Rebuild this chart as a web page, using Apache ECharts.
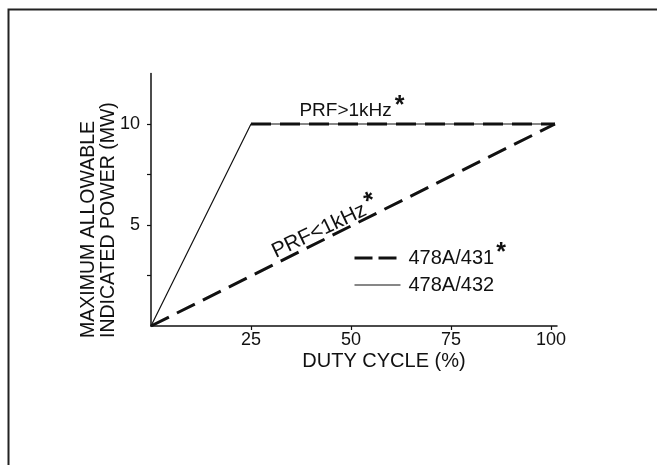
<!DOCTYPE html>
<html>
<head>
<meta charset="utf-8">
<script src="https://cdn.jsdelivr.net/npm/echarts@6/dist/echarts.min.js"></script>
<style>
html,body{margin:0;padding:0;background:#fff;}
#chart{width:657px;height:465px;}
</style>
</head>
<body>
<div id="chart"></div>
<script>
// ---- data ----
var xTicks = [25, 50, 75, 100];
var yTicks = [2.5, 5, 7.5, 10];
var yLabels = [5, 10];
// 478A/432 (thin solid)
var solid432 = [[0, 0], [25, 10], [101, 10]];
// 478A/431, PRF < 1 kHz (thick dashed)
var dashedLow = [[0, 0], [101, 10]];
// 478A/431, PRF > 1 kHz (thick dashed)
var dashedHigh = [[25, 10], [101, 10]];

var FONT = 'Liberation Sans';
var INK = '#111';

var chart = echarts.init(document.getElementById('chart'));
var dash = { color: INK, width: 3, type: [20, 9] };
var star = { fontFamily: FONT, fontSize: 25, fontWeight: 'bold', color: INK, padding: [0, 0, 9, 3] };

chart.setOption({
  animation: false,
  backgroundColor: '#fff',
  textStyle: { fontFamily: FONT, color: INK },
  grid: { left: 151, top: 73.5, width: 406, height: 252.5 },
  xAxis: {
    type: 'value', min: 0, max: 101.5,
    splitLine: { show: false },
    axisLine: { lineStyle: { color: INK, width: 1.5 } },
    axisTick: { show: true, length: 4, customValues: xTicks, lineStyle: { color: INK, width: 1.2 } },
    axisLabel: { customValues: xTicks, margin: 5, fontSize: 18, color: INK, fontFamily: FONT }
  },
  yAxis: {
    type: 'value', min: 0, max: 12.5,
    splitLine: { show: false },
    axisLine: { show: true, lineStyle: { color: INK, width: 1.5 } },
    axisTick: { show: true, length: 4, customValues: yTicks, lineStyle: { color: INK, width: 1.2 } },
    axisLabel: { customValues: yLabels, margin: 11, fontSize: 18, color: INK, fontFamily: FONT }
  },
  legend: {
    orient: 'vertical', left: 348, top: 236, itemWidth: 46, itemHeight: 12, itemGap: 7,
    itemStyle: { opacity: 0 },
    data: [
      { name: '478A/431', itemStyle: { opacity: 0 }, lineStyle: { color: INK, width: 3, type: [18, 6] } },
      { name: '478A/432', itemStyle: { opacity: 0 }, lineStyle: { color: INK, width: 1.2, type: 'solid' } }
    ],
    formatter: function (n) { return n === '478A/431' ? '{t|' + n + '}{s|*}' : '{t|' + n + '}'; },
    textStyle: {
      padding: [0, 0, 0, 3],
      rich: {
        t: { fontFamily: FONT, fontSize: 20, color: INK },
        s: { fontFamily: FONT, fontSize: 25, fontWeight: 'bold', color: INK, verticalAlign: 'top', padding: [0, 0, 9, 2] }
      }
    }
  },
  series: [
    { name: '478A/432', type: 'line', data: solid432, symbol: 'none', lineStyle: { color: INK, width: 1.2 }, itemStyle: { color: INK }, z: 2 },
    { name: '478A/431', type: 'line', data: dashedLow, symbol: 'none', lineStyle: dash, itemStyle: { color: INK }, z: 3 },
    { name: '478A/431', type: 'line', data: dashedHigh, symbol: 'none', lineStyle: dash, itemStyle: { color: INK }, z: 3 }
  ]
});

var pHigh = chart.convertToPixel({ gridIndex: 0 }, [50, 10]);
var pLow = chart.convertToPixel({ gridIndex: 0 }, [43, 4.3]);
var a0 = chart.convertToPixel({ gridIndex: 0 }, [0, 0]);
var a1 = chart.convertToPixel({ gridIndex: 0 }, [101, 10]);
var ang = Math.atan2(a0[1] - a1[1], a1[0] - a0[0]) - 0.02;

chart.setOption({
  graphic: [
    { type: 'rect', silent: true, shape: { x: 8.5, y: 9.5, width: 700, height: 520 },
      style: { fill: 'none', stroke: '#222', lineWidth: 2 } },
    { type: 'text', x: 89, y: 338, rotation: Math.PI / 2,
      style: { text: 'MAXIMUM ALLOWABLE', font: '19.5px "' + FONT + '"', fill: INK, textAlign: 'left', textVerticalAlign: 'middle' } },
    { type: 'text', x: 109, y: 338, rotation: Math.PI / 2,
      style: { text: 'INDICATED POWER (MW)', font: '19.5px "' + FONT + '"', fill: INK, textAlign: 'left', textVerticalAlign: 'middle' } },
    { type: 'text', x: 384, y: 361,
      style: { text: 'DUTY CYCLE (%)', font: '20px "' + FONT + '"', fill: INK, textAlign: 'center', textVerticalAlign: 'middle' } },
    { type: 'text', x: pHigh[0] + 1, y: pHigh[1] - 13,
      style: { text: '{t|PRF>1kHz}{s|*}', fill: INK, textAlign: 'center', textVerticalAlign: 'middle',
        rich: { t: { fontFamily: FONT, fontSize: 19, color: INK }, s: star } } },
    { type: 'text', x: pLow[0] + 2, y: pLow[1] - 11, rotation: ang,
      style: { text: '{t|PRF<1kHz}{s|*}', fill: INK, textAlign: 'center', textVerticalAlign: 'middle',
        rich: { t: { fontFamily: FONT, fontSize: 21, color: INK }, s: star } } }
  ]
});
</script>
</body>
</html>
